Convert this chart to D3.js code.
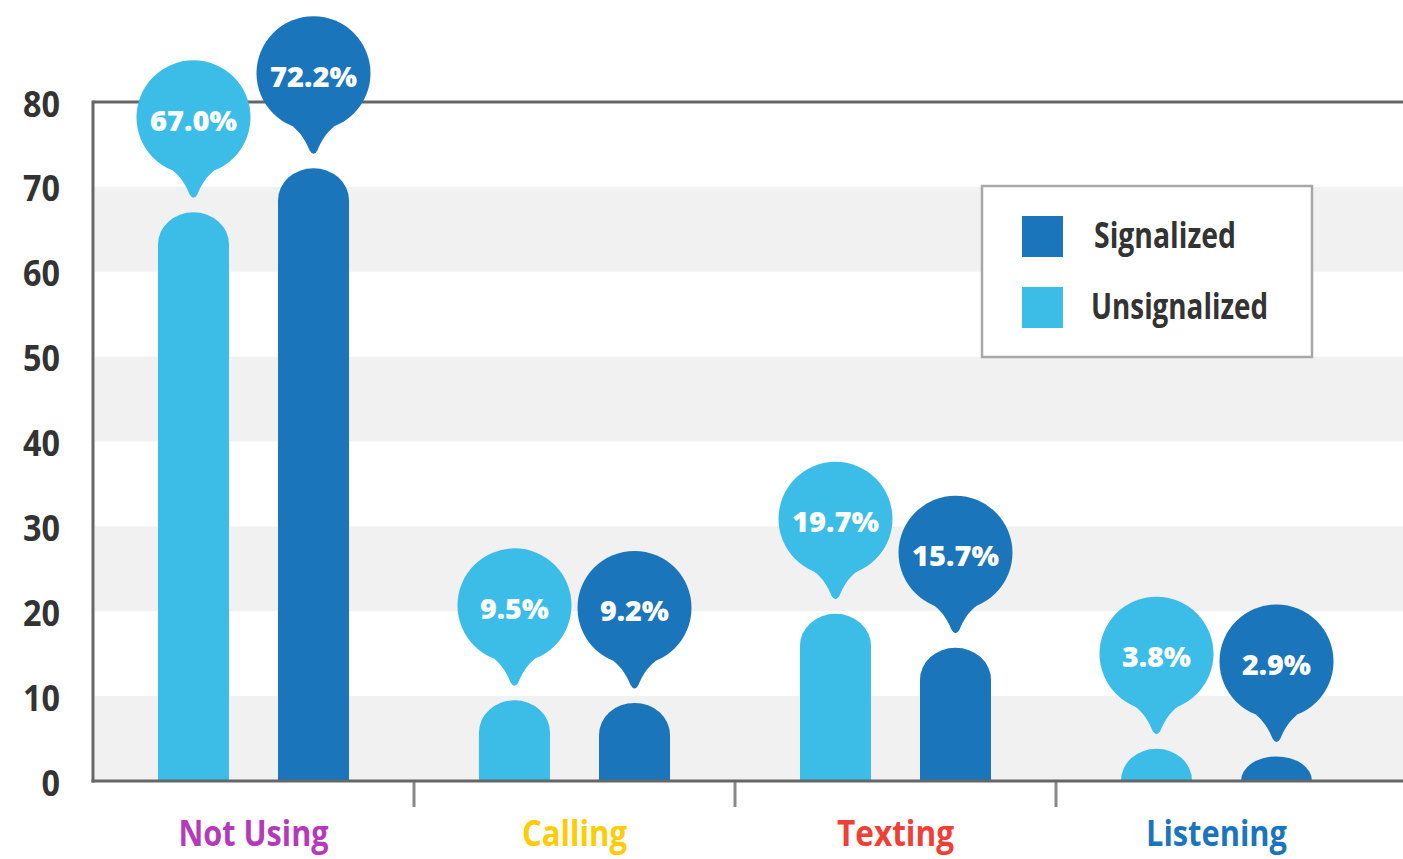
<!DOCTYPE html>
<html>
<head>
<meta charset="utf-8">
<script src="https://cdn.jsdelivr.net/npm/d3@7"></script>
<style>
html, body { margin: 0; padding: 0; background: #ffffff; }
svg { display: block; }
</style>
</head>
<body>
<svg id="chart" width="1403" height="859"></svg>
<script>
// ---- data ----
const categories = ["Not Using", "Calling", "Texting", "Listening"];
const categoryColors = ["#B43BB7", "#FFCC05", "#EE4036", "#1C75BC"];
const seriesNames = ["Unsignalized", "Signalized"];
const seriesColors = ["#3BBDE8", "#1B75BB"];
const unsignalized = [67.0, 9.5, 19.7, 3.8];
const signalized = [72.2, 9.2, 15.7, 2.9];
const yTicks = [0, 10, 20, 30, 40, 50, 60, 70, 80];
const legendOrder = ["Signalized", "Unsignalized"];

const seriesValues = { "Unsignalized": unsignalized, "Signalized": signalized };

// ---- layout ----
const W = 1403, H = 859;
const plotLeft = 93, plotTop = 102, plotBottom = 781;
const svg = d3.select("#chart");
const labelFont = "'Open Sans', Lato, sans-serif";

const y = d3.scaleLinear().domain([0, 80]).range([plotBottom, plotTop]);
const x = d3.scaleBand().domain(categories).range([plotLeft, 1377]);
const xs = d3.scalePoint().domain(seriesNames).range([-60, 60]);
const color = d3.scaleOrdinal().domain(seriesNames).range(seriesColors);

function fitWidth(sel, widthFn) {
  sel.attr("textLength", widthFn).attr("lengthAdjust", "spacingAndGlyphs");
}

// grey bands
const bandStarts = yTicks.filter((t, i) => i < yTicks.length - 1 && (t / 10) % 2 === 0);
svg.append("g").selectAll("rect").data(bandStarts).join("rect")
  .attr("x", plotLeft + 2).attr("width", W - plotLeft - 2)
  .attr("y", d => y(d + 10)).attr("height", d => y(d) - y(d + 10))
  .attr("fill", "#F1F1F1");

// frame lines
svg.append("line").attr("x1", plotLeft).attr("x2", W).attr("y1", plotTop).attr("y2", plotTop)
  .attr("stroke", "#666").attr("stroke-width", 3);
svg.append("line").attr("x1", plotLeft).attr("x2", plotLeft).attr("y1", plotTop - 1.5).attr("y2", plotBottom + 1.5)
  .attr("stroke", "#666").attr("stroke-width", 3);

// y tick labels
svg.append("g").selectAll("text").data(yTicks).join("text")
  .attr("x", 60).attr("y", d => y(d) + 1)
  .attr("text-anchor", "end").attr("dominant-baseline", "central")
  .attr("font-family", labelFont).attr("font-weight", 700)
  .attr("font-size", 36).attr("fill", "#333")
  .text(d => d)
  .call(fitWidth, d => String(d).length * 18.5);

// category separators
const seps = categories.slice(1).map(c => x(c));
svg.append("g").selectAll("line").data(seps).join("line")
  .attr("x1", d => d).attr("x2", d => d).attr("y1", plotBottom).attr("y2", plotBottom + 26)
  .attr("stroke", "#888").attr("stroke-width", 3);

// bars
const barW = 71;
const flat = [];
categories.forEach((c, i) => {
  seriesNames.forEach(s => {
    flat.push({ cat: c, series: s, value: seriesValues[s][i] });
  });
});

function barPath(d) {
  const cx = x(d.cat) + x.bandwidth() / 2 + xs(d.series);
  const x0 = cx - barW / 2;
  const t = y(d.value);
  const h = plotBottom - t;
  const rx = barW / 2;
  const ry = Math.min(32, h);
  return `M${x0},${plotBottom} V${t + ry} A${rx},${ry} 0 0 1 ${x0 + barW},${t + ry} V${plotBottom} Z`;
}

svg.append("g").selectAll("path").data(flat).join("path")
  .attr("d", barPath)
  .attr("fill", d => color(d.series));

// x axis line (over bars)
svg.append("line").attr("x1", plotLeft - 1.5).attr("x2", W).attr("y1", plotBottom).attr("y2", plotBottom)
  .attr("stroke", "#666").attr("stroke-width", 3);

// bubbles
const R = 57;
const tail = "M-21,53 C-13,59 -7,69 -4,77 Q0,84 4,77 C7,69 13,59 21,53 Z";
const bub = svg.append("g").selectAll("g").data(flat).join("g")
  .attr("transform", d => {
    const cx = x(d.cat) + x.bandwidth() / 2 + xs(d.series);
    const cy = y(d.value) - 95;
    return `translate(${cx},${cy})`;
  });
bub.append("circle").attr("r", R).attr("fill", d => color(d.series));
bub.append("path").attr("d", tail).attr("fill", d => color(d.series));
bub.append("text")
  .attr("y", 2).attr("text-anchor", "middle").attr("dominant-baseline", "central")
  .attr("font-family", labelFont).attr("font-weight", 800)
  .attr("font-size", 29).attr("fill", "#fff")
  .text(d => d.value.toFixed(1) + "%")
  .call(fitWidth, d => d.value >= 10 ? 87 : 69);

// category labels
const catWidths = [150, 105, 117, 141];
svg.append("g").selectAll("text").data(categories).join("text")
  .attr("x", d => x(d) + x.bandwidth() / 2)
  .attr("y", 846)
  .attr("text-anchor", "middle")
  .attr("font-family", labelFont).attr("font-weight", 700)
  .attr("font-size", 36)
  .attr("fill", (d, i) => categoryColors[i])
  .text(d => d)
  .call(fitWidth, (d, i) => catWidths[i]);

// legend
const legendWidths = [142, 177];
const lg = svg.append("g");
lg.append("rect").attr("x", 982).attr("y", 186).attr("width", 330).attr("height", 171)
  .attr("fill", "#fff").attr("stroke", "#A8A8A8").attr("stroke-width", 2.5);
const li = lg.selectAll("g").data(legendOrder).join("g")
  .attr("transform", (d, i) => `translate(1022,${216 + i * 71})`);
li.append("rect").attr("width", 41).attr("height", 41).attr("fill", d => color(d));
li.append("text")
  .attr("x", (d, i) => i === 0 ? 72 : 69).attr("y", 32)
  .attr("font-family", labelFont).attr("font-weight", 700)
  .attr("font-size", 35).attr("fill", "#333")
  .text(d => d)
  .call(fitWidth, (d, i) => legendWidths[i]);
</script>
</body>
</html>
